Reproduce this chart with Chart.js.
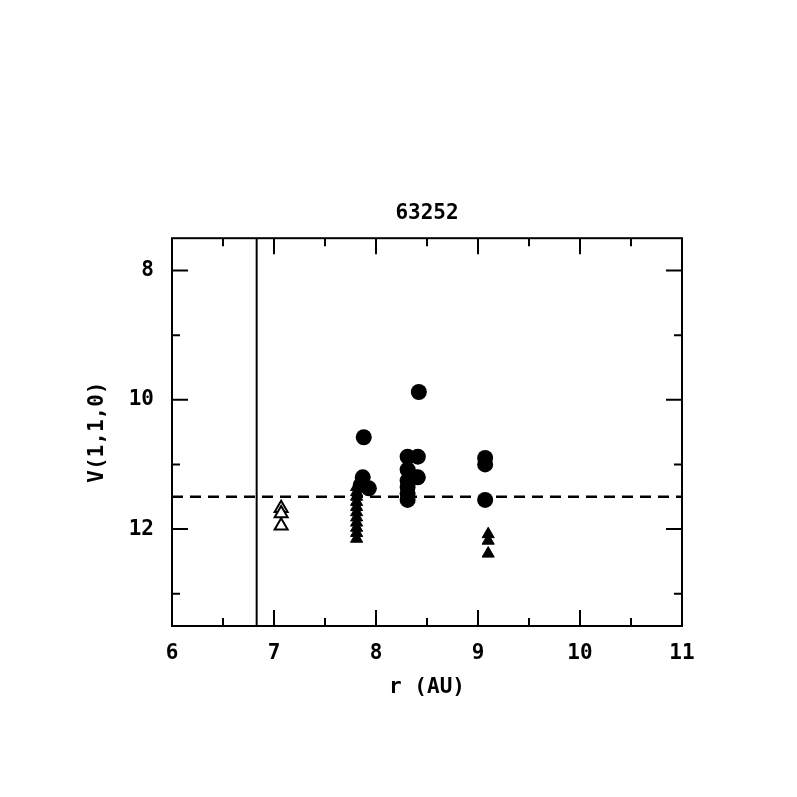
<!DOCTYPE html>
<html>
<head>
<meta charset="utf-8">
<script src="https://cdn.jsdelivr.net/npm/chart.js@4"></script>
<style>
  html, body { margin: 0; padding: 0; background: #fff; }
  #wrap { width: 797px; height: 797px; }
</style>
</head>
<body>
<div id="wrap"><canvas id="canvas" width="797" height="797"></canvas></div>
<script>
// --- data ---
const openTriR = [7.07, 7.07, 7.07];
const openTriV = [11.68, 11.76, 11.95];

const triR = [7.81, 7.81, 7.81, 7.81, 7.81, 7.81, 7.81, 7.81, 7.81, 7.81, 7.81, 9.10, 9.10, 9.10];
const triV = [11.35, 11.43, 11.50, 11.58, 11.66, 11.74, 11.82, 11.90, 11.98, 12.06, 12.15, 12.08, 12.18, 12.38];

const dotR = [7.88, 7.87, 7.85, 7.93, 8.42, 8.31, 8.41, 8.31, 8.38, 8.31, 8.31, 8.31, 8.31, 8.41, 9.07, 9.07, 9.07];
const dotV = [10.58, 11.20, 11.32, 11.37, 9.88, 10.88, 10.88, 11.08, 11.20, 11.25, 11.35, 11.45, 11.55, 11.20, 10.90, 11.00, 11.55];

const limitR = 6.83;     // vertical line
const limitV = 11.5;     // dashed line

const xTicks = [6, 7, 8, 9, 10, 11];
const xMinor = [6.5, 7.5, 8.5, 9.5, 10.5];
const yTicks = [8, 10, 12];
const yMinor = [9, 11, 13];

const xMin = 6, xMax = 11, yMin = 7.5, yMax = 13.5;

const FONT = "'DejaVu Sans Mono', monospace";

function pts(xs, ys) {
    return xs.map((x, i) => ({ x: x, y: ys[i] }));
}

// box + inward ticks on all four sides
const frame = {
    id: 'frame',
    beforeDraw(chart) {
        const c = chart.ctx;
        c.save();
        c.fillStyle = '#fff';
        c.fillRect(0, 0, chart.width, chart.height);
        c.restore();
    },
    afterDatasetsDraw(chart) {
        const c = chart.ctx;
        const a = chart.chartArea;
        const xs = chart.scales.x, ys = chart.scales.y;
        c.save();
        c.strokeStyle = '#000';
        c.lineWidth = 2;
        c.strokeRect(a.left, a.top, a.right - a.left, a.bottom - a.top);
        c.beginPath();
        xTicks.forEach(v => {
            const p = xs.getPixelForValue(v);
            c.moveTo(p, a.bottom); c.lineTo(p, a.bottom - 16);
            c.moveTo(p, a.top); c.lineTo(p, a.top + 16);
        });
        xMinor.forEach(v => {
            const p = xs.getPixelForValue(v);
            c.moveTo(p, a.bottom); c.lineTo(p, a.bottom - 8);
            c.moveTo(p, a.top); c.lineTo(p, a.top + 8);
        });
        yTicks.forEach(v => {
            const p = ys.getPixelForValue(v);
            c.moveTo(a.left, p); c.lineTo(a.left + 16, p);
            c.moveTo(a.right, p); c.lineTo(a.right - 16, p);
        });
        yMinor.forEach(v => {
            const p = ys.getPixelForValue(v);
            c.moveTo(a.left, p); c.lineTo(a.left + 8, p);
            c.moveTo(a.right, p); c.lineTo(a.right - 8, p);
        });
        c.stroke();
        c.restore();
    }
};

const canvasCTX = document.getElementById('canvas').getContext('2d');

const grafico = new Chart(canvasCTX, {
    type: 'scatter',
    data: {
        datasets: [
            {
                label: 'limite r',
                data: pts([limitR, limitR], [yMin, yMax]),
                showLine: true,
                borderColor: '#000',
                borderWidth: 2,
                pointRadius: 0
            },
            {
                label: 'limite V',
                data: pts([xMin, xMax], [limitV, limitV]),
                showLine: true,
                borderColor: '#000',
                borderWidth: 2.5,
                borderDash: [11, 7],
                pointRadius: 0
            },
            {
                label: 'circulos',
                data: pts(dotR, dotV),
                pointStyle: 'circle',
                pointRadius: 8,
                backgroundColor: '#000',
                borderColor: '#000',
                borderWidth: 0
            },
            {
                label: 'triangulos',
                data: pts(triR, triV),
                pointStyle: 'triangle',
                pointRadius: 7,
                backgroundColor: '#000',
                borderColor: '#000',
                borderWidth: 1
            },
            {
                label: 'triangulos abertos',
                data: pts(openTriR, openTriV),
                pointStyle: 'triangle',
                pointRadius: 7.5,
                backgroundColor: '#fff',
                borderColor: '#000',
                borderWidth: 2
            }
        ]
    },
    options: {
        responsive: false,
        animation: false,
        events: [],
        layout: {
            padding: { top: 201, right: 115, left: 0, bottom: 0 }
        },
        plugins: {
            legend: { display: false },
            tooltip: { enabled: false },
            title: {
                display: true,
                fullSize: false,
                text: '63252',
                color: '#000',
                font: { family: FONT, size: 21, weight: 'bold', lineHeight: 1.2 },
                padding: { top: 0, bottom: 12 }
            }
        },
        scales: {
            x: {
                type: 'linear',
                min: xMin,
                max: xMax,
                afterBuildTicks: s => { s.ticks = xTicks.map(v => ({ value: v })); },
                afterFit: s => { s.height = 171; },
                grid: { display: false, drawTicks: false },
                border: { display: false },
                ticks: {
                    padding: 15,
                    color: '#000',
                    maxRotation: 0,
                    font: { family: FONT, size: 21, weight: 'bold' }
                },
                title: {
                    display: true,
                    text: 'r (AU)',
                    color: '#000',
                    font: { family: FONT, size: 21, weight: 'bold', lineHeight: 1.2 },
                    padding: { top: 0, bottom: 97 }
                }
            },
            y: {
                type: 'linear',
                reverse: true,
                min: yMin,
                max: yMax,
                afterBuildTicks: s => { s.ticks = yTicks.map(v => ({ value: v })); },
                afterFit: s => { s.width = 172; },
                grid: { display: false, drawTicks: false },
                border: { display: false },
                ticks: {
                    padding: 18,
                    color: '#000',
                    font: { family: FONT, size: 21, weight: 'bold' }
                },
                title: {
                    display: true,
                    text: 'V(1,1,0)',
                    color: '#000',
                    font: { family: FONT, size: 21, weight: 'bold', lineHeight: 1.2 },
                    padding: { top: 85, bottom: 0 }
                }
            }
        }
    },
    plugins: [frame]
});
</script>
</body>
</html>
